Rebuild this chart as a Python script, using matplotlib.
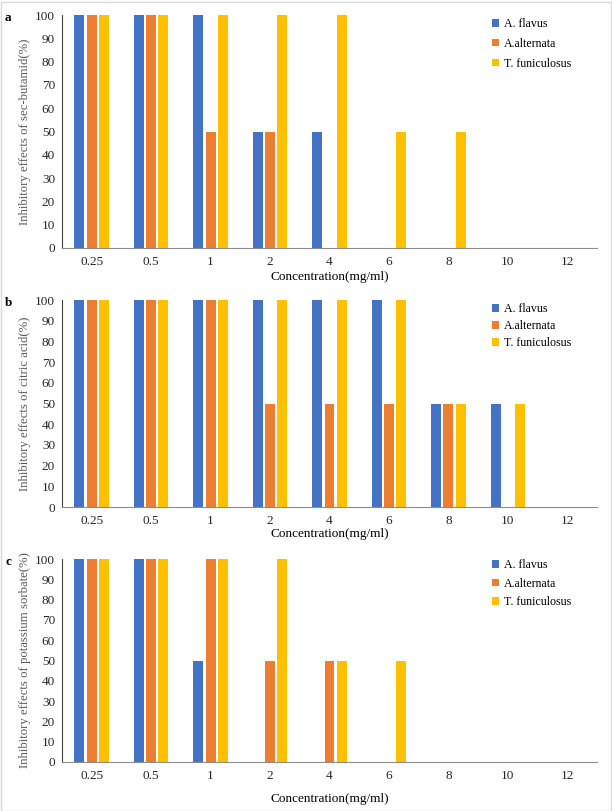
import numpy as np
import matplotlib.pyplot as plt
from matplotlib.patches import Rectangle

plt.rcParams['font.family'] = ['Liberation Serif', 'DejaVu Serif']

# Concentration categories (mg/ml)
concentrations = ['0.25', '0.5', '1', '2', '4', '6', '8', '10', '12']
series_names = ['A. flavus', 'A.alternata', 'T. funiculosus']
colors = ['#4472C4', '#ED7D31', '#FFC000']

# Panel a: sec-butamid
a_flavus = [100, 100, 100, 50, 50, 0, 0, 0, 0]
a_alternata = [100, 100, 50, 50, 0, 0, 0, 0, 0]
a_funiculosus = [100, 100, 100, 100, 100, 50, 50, 0, 0]

# Panel b: citric acid
b_flavus = [100, 100, 100, 100, 100, 100, 50, 50, 0]
b_alternata = [100, 100, 100, 50, 50, 50, 50, 0, 0]
b_funiculosus = [100, 100, 100, 100, 100, 100, 50, 50, 0]

# Panel c: potassium sorbate
c_flavus = [100, 100, 50, 0, 0, 0, 0, 0, 0]
c_alternata = [100, 100, 100, 50, 50, 0, 0, 0, 0]
c_funiculosus = [100, 100, 100, 100, 50, 50, 0, 0, 0]

W, H = 612, 811
fig = plt.figure(figsize=(W / 100, H / 100), dpi=100)
fig.patches.append(Rectangle((0.5 / W, 0.5 / H), 1 - 2 / W, 1 - 2 / H,
                             transform=fig.transFigure, fill=False,
                             edgecolor='#d9d9d9', linewidth=1))

# (label, ylabel, data, axes top px, axes bottom px, legend top px, legend spacing, xlabel pad pt)
panels = [
    ('a', 'Inhibitory effects of sec-butamid(%)',
     [a_flavus, a_alternata, a_funiculosus], 15, 248, 18, 0.65, 2.5),
    ('b', 'Inhibitory effects of citric acid(%)',
     [b_flavus, b_alternata, b_funiculosus], 300, 507, 303, 0.42, 1),
    ('c', 'Inhibitory effects of potassium sorbate(%)',
     [c_flavus, c_alternata, c_funiculosus], 559, 762, 559, 0.56, 8),
]

left_px, right_px = 62, 597
x = np.arange(len(concentrations))
width = 0.168
step = 0.207

for label, ylabel, data, top, bottom, leg_top, spacing, xpad in panels:
    ax = fig.add_axes([left_px / W, 1 - bottom / H,
                       (right_px - left_px) / W, (bottom - top) / H])
    for i, (vals, name, col) in enumerate(zip(data, series_names, colors)):
        ax.bar(x + (i - 1) * step, vals, width, color=col, label=name)
    ax.set_xlim(-0.5, len(concentrations) - 0.5)
    ax.set_ylim(0, 100)
    ax.set_yticks(range(0, 101, 10))
    ax.set_xticks(x)
    ax.set_xticklabels(concentrations)
    ax.tick_params(axis='both', length=0, labelsize=9.5, colors='#262626')
    ax.tick_params(axis='x', pad=5.5)
    ax.tick_params(axis='y', pad=5)
    for s in ['top', 'right']:
        ax.spines[s].set_visible(False)
    ax.spines['left'].set_color('#404040')
    ax.spines['bottom'].set_color('#8c8c8c')
    ax.set_ylabel(ylabel, fontsize=9.2, color='#595959', labelpad=3)
    ax.set_xlabel('Concentration(mg/ml)', fontsize=9.5, labelpad=xpad)
    fig.text(5 / W, 1 - (top - 3) / H, label, fontsize=9.5, fontweight='bold',
             va='top', ha='left')
    fig.legend(*ax.get_legend_handles_labels(), loc='upper left',
               bbox_to_anchor=(492 / W, 1 - leg_top / H), frameon=False,
               fontsize=8.6, borderpad=0, borderaxespad=0,
               handlelength=0.6, handleheight=0.6, handletextpad=0.4,
               labelspacing=spacing)

fig.savefig('out.png', dpi=100)
